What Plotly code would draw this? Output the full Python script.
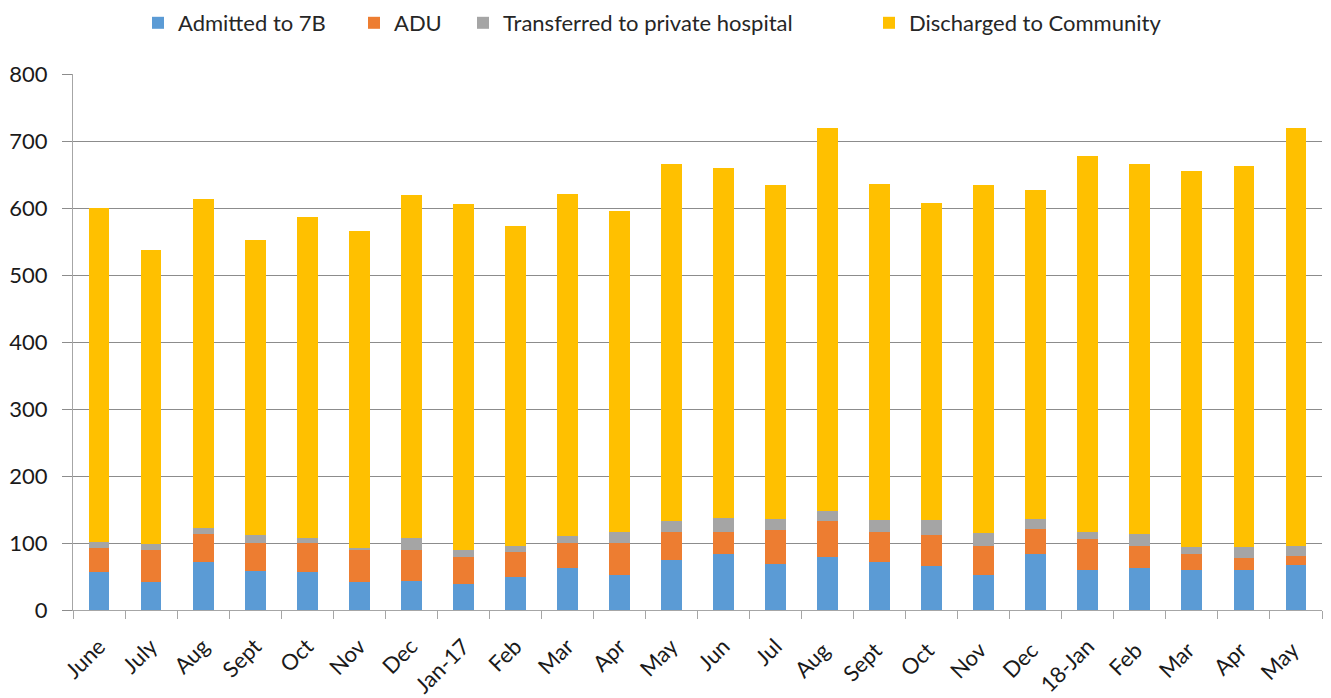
import plotly.graph_objects as go

months = ["June", "July", "Aug", "Sept", "Oct", "Nov", "Dec", "Jan-17", "Feb", "Mar", "Apr", "May",
          "Jun", "Jul", "Aug ", "Sept ", "Oct ", "Nov ", "Dec ", "18-Jan", "Feb ", "Mar ", "Apr ", "May "]

admitted_7b = [56, 42, 71, 58, 56, 42, 44, 39, 50, 62, 52, 75,
               83, 69, 79, 71, 65, 52, 83, 60, 63, 60, 60, 67]
adu = [36, 48, 43, 42, 44, 47, 46, 40, 36, 38, 48, 41,
       34, 50, 54, 45, 47, 44, 38, 46, 33, 24, 18, 14]
private_hospital = [10, 8, 9, 12, 8, 3, 18, 11, 10, 10, 17, 17,
                    21, 17, 15, 18, 22, 19, 15, 11, 17, 10, 16, 15]
totals = [600, 537, 613, 552, 587, 566, 619, 606, 573, 621, 596, 665,
          659, 634, 719, 636, 607, 634, 627, 678, 665, 655, 663, 720]
community = [t - a - b - c for t, a, b, c in zip(totals, admitted_7b, adu, private_hospital)]

series = [
    ("Admitted to 7B", admitted_7b, "#5B9BD5"),
    ("ADU", adu, "#ED7D31"),
    ("Transferred to private hospital", private_hospital, "#A5A5A5"),
    ("Discharged to Community", community, "#FFC000"),
]
legend_ids = ["legend", "legend2", "legend3", "legend4"]
legend_x = [130, 346, 455, 861]

fig = go.Figure()
for (name, vals, color), lid in zip(series, legend_ids):
    fig.add_trace(go.Bar(x=months, y=vals, name=name, legend=lid, showlegend=True,
                         marker=dict(color=color, line=dict(width=0))))

font = "Lato, 'Open Sans', sans-serif"
layout_legends = {}
for lid, px in zip(legend_ids, legend_x):
    layout_legends[lid] = dict(orientation="h", x=px / 1331, xanchor="left", xref="container",
                               y=1 - 15 / 698, yanchor="middle", yref="container",
                               font=dict(size=22, color="#262626"), itemwidth=30,
                               bgcolor="rgba(0,0,0,0)")

fig.update_layout(
    showlegend=True,
    barmode="stack",
    bargap=0.6,
    width=1331, height=698,
    margin=dict(l=65, r=17, t=66, b=96, autoexpand=False),
    plot_bgcolor="white", paper_bgcolor="white",
    font=dict(family=font, size=20, color="#262626"),
    xaxis=dict(type="category", tickangle=-45, showline=True, linecolor="#A6A6A6",
               ticks="outside", tickson="boundaries", ticklen=8, tickcolor="#A6A6A6",
               automargin=False,
               ticklabelstandoff=14, tickfont=dict(size=22, color="#1a1a1a")),
    yaxis=dict(range=[0, 800], dtick=100, showgrid=True, gridcolor="#8C8C8C", gridwidth=1,
               showline=True, linecolor="#A6A6A6", ticks="outside", ticklen=10,
               ticklabelstandoff=10, automargin=False,
               tickcolor="#8C8C8C", tickfont=dict(size=22, color="#1a1a1a"), zeroline=False),
    **layout_legends,
)
fig.write_html("out.html")
